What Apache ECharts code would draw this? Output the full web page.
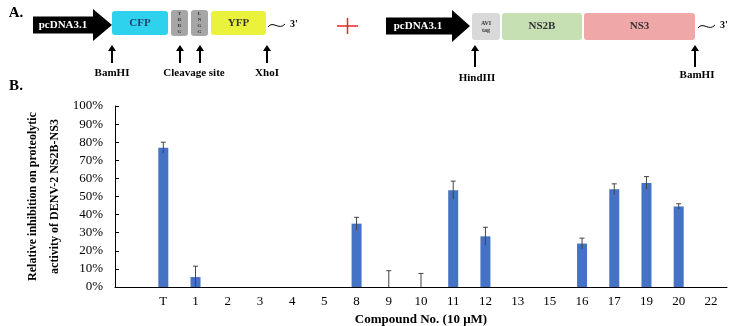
<!DOCTYPE html>
<html>
<head>
<meta charset="utf-8">
<script src="https://cdn.jsdelivr.net/npm/echarts@6/dist/echarts.min.js"></script>
<style>
  html, body { margin: 0; padding: 0; background: #fff; }
  #main { width: 737px; height: 326px; }
</style>
</head>
<body>
<div id="main"></div>
<script>
// compounds tested (first slot left empty as in the figure)
var compounds = ['', 'T', '1', '2', '3', '4', '5', '8', '9', '10', '11', '12', '13', '15', '16', '17', '19', '20', '22'];
// relative inhibition, %
var inhibition = [null, 77, 5.5, 0, 0, 0, 0, 35, 0, 0, 53.5, 28, 0, 0, 24, 54, 57.5, 44.5, 0];
// error (SD), %
var errorSD = [0, 3, 6, 0, 0, 0, 0, 3.5, 9, 7.5, 5, 5, 0, 0, 3, 3, 3.5, 1.5, 0];
var yTicks = [0, 10, 20, 30, 40, 50, 60, 70, 80, 90, 100];

var serif = '"Liberation Serif", "Times New Roman", serif';

var errData = [];
for (var i = 0; i < compounds.length; i++) {
    if (errorSD[i] > 0) {
        var v = inhibition[i] || 0;
        errData.push([i, Math.max(0, v - errorSD[i]), v + errorSD[i]]);
    }
}

// ---- construct diagram (part A) ----
function label(x, y, text, size, color, weight) {
    return {
        type: 'text', x: x, y: y,
        style: {
            text: text, fill: color || '#000', align: 'center', verticalAlign: 'middle',
            fontFamily: serif, fontSize: size, fontWeight: weight || 'bold', lineHeight: size + 1
        }
    };
}
function box(x, y, w, h, fill) {
    return { type: 'rect', shape: { x: x, y: y, width: w, height: h, r: 3 }, style: { fill: fill } };
}
function upArrow(x, y0, y1) {
    return [
        { type: 'line', shape: { x1: x, y1: y0, x2: x, y2: y1 + 5 }, style: { stroke: '#000', lineWidth: 2 } },
        { type: 'polygon', shape: { points: [[x - 4, y1 + 6], [x + 4, y1 + 6], [x, y1]] }, style: { fill: '#000' } }
    ];
}
function tilde(x, y) {
    return {
        type: 'bezierCurve',
        shape: { x1: x, y1: y + 2, cpx1: x + 5, cpy1: y - 5, cpx2: x + 11, cpy2: y + 6, x2: x + 17, y2: y - 1 },
        style: { stroke: '#000', lineWidth: 1, fill: null }
    };
}
function bigArrow(x0, x1, x2, yc) {
    return {
        type: 'polygon',
        shape: { points: [[x0, yc - 8.5], [x1, yc - 8.5], [x1, yc - 16], [x2, yc], [x1, yc + 16], [x1, yc + 8.5], [x0, yc + 8.5]] },
        style: { fill: '#000' }
    };
}

var diagram = [
    label(16, 13, 'A.', 15),
    label(16, 86, 'B.', 15),
    // construct 1
    bigArrow(33, 93, 112, 25),
    label(63, 25, 'pcDNA3.1', 11, '#fff'),
    box(112, 11, 56, 24, '#2ED2EC'),
    label(140, 23.5, 'CFP', 11, '#1F3E6E'),
    box(171, 10, 17, 26, '#A6A6A6'),
    label(179.5, 23, 'T\nR\nR\nG', 5, '#333'),
    box(191, 10, 17, 26, '#A6A6A6'),
    label(199.5, 23, 'L\nN\nG\nG', 5, '#333'),
    box(211, 11, 55, 24, '#EBF23B'),
    label(238.5, 23.5, 'YFP', 11, '#333'),
    tilde(268, 25),
    label(294, 24, '3\'', 10),
    { type: 'line', shape: { x1: 337, y1: 26, x2: 358, y2: 26 }, style: { stroke: '#E8262A', lineWidth: 1.5 } },
    { type: 'line', shape: { x1: 347.5, y1: 18, x2: 347.5, y2: 34 }, style: { stroke: '#E8262A', lineWidth: 1.5 } },
    label(112, 73, 'BamHI', 11),
    label(194, 73, 'Cleavage site', 11),
    label(267, 73, 'XhoI', 11),
    // construct 2
    bigArrow(386, 452, 470, 26),
    label(418, 26, 'pcDNA3.1', 11, '#fff'),
    box(472, 13, 28, 27, '#D9D9D9'),
    label(486, 26.5, 'AVI\ntag', 6, '#333'),
    box(502, 13, 80, 27, '#C6E0B4'),
    label(542, 26.5, 'NS2B', 11, '#333'),
    box(584, 13, 111, 27, '#EFA8A7'),
    label(639.5, 26.5, 'NS3', 11, '#333'),
    tilde(698, 26),
    label(724, 25, '3\'', 10),
    label(477, 78, 'HindIII', 11),
    label(697, 75, 'BamHI', 11)
];
diagram = diagram
    .concat(upArrow(112, 63, 45))
    .concat(upArrow(180, 63, 45))
    .concat(upArrow(200, 63, 45))
    .concat(upArrow(267, 63, 45))
    .concat(upArrow(475, 67, 45))
    .concat(upArrow(695, 67, 45));

var option = {
    backgroundColor: '#fff',
    animation: false,
    graphic: diagram,
    grid: { left: 115, right: 10, top: 106, bottom: 39, containLabel: false, outerBoundsMode: 'none' },
    xAxis: {
        type: 'category',
        data: compounds,
        name: 'Compound No. (10 μM)',
        nameLocation: 'middle',
        nameGap: 21,
        nameTextStyle: { fontFamily: serif, fontSize: 13, fontWeight: 'bold', color: '#000' },
        axisLine: { lineStyle: { color: '#000', width: 1 } },
        axisTick: { inside: true, length: 4, lineStyle: { color: '#000' } },
        axisLabel: { fontFamily: serif, fontSize: 13, color: '#000', margin: 8, interval: 0 }
    },
    yAxis: {
        type: 'value',
        min: yTicks[0],
        max: yTicks[yTicks.length - 1],
        interval: 10,
        name: 'Relative inhibition on proteolytic\nactivity of DENV-2 NS2B-NS3',
        nameLocation: 'middle',
        nameGap: 49,
        nameMoveOverlap: false,
        nameTextStyle: { fontFamily: serif, fontSize: 12, fontWeight: 'bold', color: '#000', lineHeight: 22 },
        axisLine: { show: true, lineStyle: { color: '#000', width: 1 } },
        axisTick: { show: true, inside: true, length: 4, lineStyle: { color: '#000' } },
        axisLabel: { fontFamily: serif, fontSize: 13, color: '#000', margin: 12, formatter: '{value}%' },
        splitLine: { show: false }
    },
    series: [
        {
            type: 'bar',
            data: inhibition,
            barWidth: 10,
            itemStyle: { color: '#4472C4' }
        },
        {
            type: 'custom',
            data: errData,
            encode: { x: 0, y: [1, 2] },
            z: 5,
            renderItem: function (params, api) {
                var lo = api.coord([api.value(0), api.value(1)]);
                var hi = api.coord([api.value(0), api.value(2)]);
                var st = { stroke: '#444', lineWidth: 1 };
                return {
                    type: 'group',
                    children: [
                        { type: 'line', shape: { x1: hi[0], y1: lo[1], x2: hi[0], y2: hi[1] }, style: st },
                        { type: 'line', shape: { x1: hi[0] - 2.5, y1: hi[1], x2: hi[0] + 2.5, y2: hi[1] }, style: st }
                    ]
                };
            }
        }
    ]
};

var myChart = echarts.init(document.getElementById('main'));
myChart.setOption(option);
</script>
</body>
</html>
